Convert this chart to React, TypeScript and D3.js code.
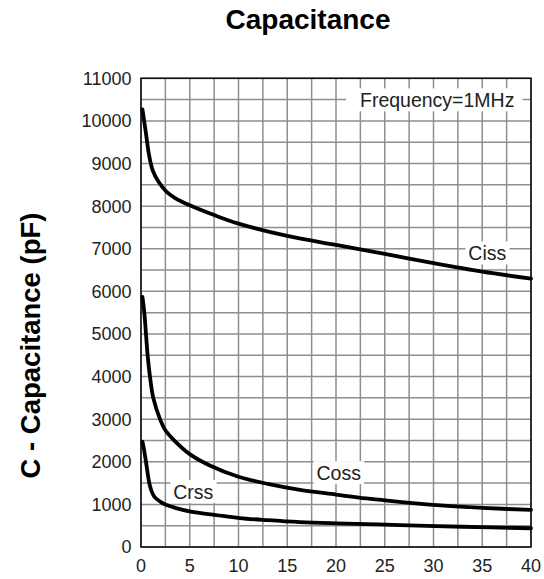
import React, { useEffect, useRef } from "react";
import * as d3 from "d3";

const W = 544;
const H = 579;

const title = "Capacitance";
const yLabel = "C - Capacitance (pF)";

const xTicks = [0, 5, 10, 15, 20, 25, 30, 35, 40];
const yTicks = [0, 1000, 2000, 3000, 4000, 5000, 6000, 7000, 8000, 9000, 10000, 11000];

// Capacitance curves: [Vds, pF]
const cissData: [number, number][] = [
  [0.15, 10270], [0.5, 9720], [0.85, 9170], [1.2, 8840], [1.8, 8570],
  [2.6, 8340], [3.5, 8190], [5, 8020], [7.5, 7790], [10, 7590], [15, 7300],
  [20, 7090], [25, 6880], [30, 6660], [35, 6460], [40, 6300],
];
const cossData: [number, number][] = [
  [0.15, 5870], [0.34, 5500], [0.51, 5000], [0.68, 4500], [0.92, 4000], [1.26, 3500],
  [1.95, 3000], [2.5, 2740], [3.5, 2480], [5, 2180], [7, 1920], [10, 1650], [13, 1480],
  [16.3, 1340], [20, 1230], [23.1, 1140], [26.5, 1060], [30, 990], [35, 920], [40, 870],
];
const crssData: [number, number][] = [
  [0.15, 2470], [0.3, 2300], [0.51, 2000], [0.85, 1500], [1.1, 1300], [1.4, 1170],
  [2, 1060], [2.56, 990], [3.5, 920], [5.1, 830], [7.7, 750], [10.1, 680], [13, 630],
  [16.3, 585], [20, 555], [26.6, 515], [33, 475], [40, 440],
];
const seriesList = [cissData, cossData, crssData];

const annotations = [
  { text: "Frequency=1MHz", x: 22.46, y: 10319, padL: 14, padR: 8 },
  { text: "Ciss", x: 33.57, y: 6726, padL: 3, padR: 3 },
  { text: "Coss", x: 18.0, y: 1570, padL: 3, padR: 3 },
  { text: "Crss", x: 3.31, y: 1125, padL: 3, padR: 3 },
];

export default function App() {
  const ref = useRef<SVGSVGElement>(null);

  useEffect(() => {
    const svg = d3.select(ref.current);
    svg.selectAll("*").remove();

    const left = 141, right = 531, top = 78.3, bottom = 547;
    const x = d3.scaleLinear().domain([0, 40]).range([left, right]);
    const y = d3.scaleLinear().domain([0, 11000]).range([bottom, top]);
    const font = "'Liberation Sans', Arial, sans-serif";

    svg.append("rect").attr("width", W).attr("height", H).attr("fill", "#fff");

    // title
    svg.append("text").attr("x", 308).attr("y", 29.3).attr("text-anchor", "middle")
      .attr("font-family", font).attr("font-weight", "bold").attr("font-size", 28)
      .attr("fill", "#000").text(title);

    // y label
    svg.append("text").attr("transform", "translate(40,345.5) rotate(-90)")
      .attr("text-anchor", "middle").attr("font-family", font).attr("font-weight", "bold")
      .attr("font-size", 27.5).attr("fill", "#000").text(yLabel);

    const g = svg.append("g");

    // grid
    const xGrid = d3.range(0, 40.001, 2.5);
    const yGrid = d3.range(0, 11000.1, 500);
    g.selectAll("line.vg").data(xGrid).enter().append("line")
      .attr("x1", (d) => x(d)).attr("x2", (d) => x(d)).attr("y1", top).attr("y2", bottom)
      .attr("stroke", "#8e8e8e").attr("stroke-width", 1.5);
    g.selectAll("line.hg").data(yGrid).enter().append("line")
      .attr("y1", (d) => y(d)).attr("y2", (d) => y(d)).attr("x1", left).attr("x2", right)
      .attr("stroke", "#8e8e8e").attr("stroke-width", 1.5);

    // annotation boxes and texts
    annotations.forEach((a) => {
      const t = g.append("text").attr("x", x(a.x)).attr("y", y(a.y))
        .attr("font-family", font).attr("font-size", 19.5).attr("fill", "#222").text(a.text);
      const bb = (t.node() as SVGTextElement).getBBox();
      g.insert("rect", () => t.node() as any)
        .attr("x", bb.x - a.padL).attr("y", bb.y - 1)
        .attr("width", bb.width + a.padL + a.padR).attr("height", bb.height + 1)
        .attr("fill", "#fff");
    });

    // frame
    g.append("rect").attr("x", left).attr("y", top).attr("width", right - left)
      .attr("height", bottom - top).attr("fill", "none").attr("stroke", "#111").attr("stroke-width", 1.6);

    // curves
    const line = d3.line<[number, number]>().x((d) => x(d[0])).y((d) => y(d[1]))
      .curve(d3.curveCatmullRom.alpha(0.5));
    seriesList.forEach((s) => {
      g.append("path").attr("d", line(s) as string).attr("fill", "none")
        .attr("stroke", "#000").attr("stroke-width", 3.8).attr("stroke-linejoin", "round")
        .attr("stroke-linecap", "round");
    });

    // tick labels
    g.selectAll("text.yt").data(yTicks).enter().append("text")
      .attr("x", 131.5).attr("y", (d) => y(d)).attr("dy", "0.36em").attr("text-anchor", "end")
      .attr("font-family", font).attr("font-size", 18).attr("fill", "#222").text((d) => String(d));
    g.selectAll("text.xt").data(xTicks).enter().append("text")
      .attr("x", (d) => x(d)).attr("y", 571.7).attr("text-anchor", "middle")
      .attr("font-family", font).attr("font-size", 18).attr("fill", "#222").text((d) => String(d));
  }, []);

  return (
    <svg ref={ref} width={W} height={H} style={{ position: "absolute", left: 0, top: 0 }} />
  );
}
